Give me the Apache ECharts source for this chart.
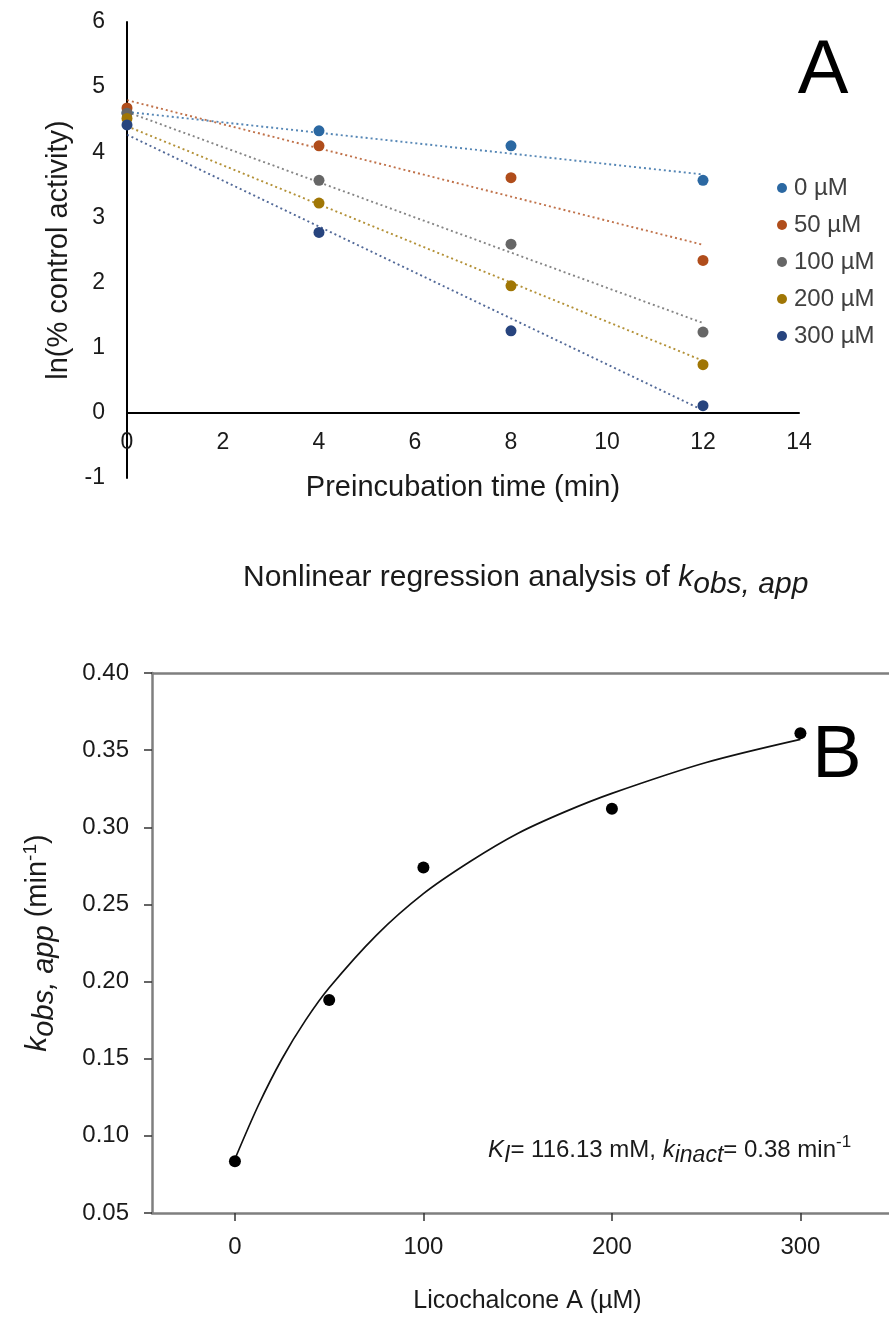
<!DOCTYPE html>
<html>
<head>
<meta charset="utf-8">
<script src="https://cdn.jsdelivr.net/npm/echarts@6/dist/echarts.min.js"></script>
<style>
    html, body { margin: 0; padding: 0; background: #fff; }
    #chart { width: 889px; height: 1317px; }
</style>
</head>
<body>
<div id="chart"></div>
<script>
// ---- panel A : ln(% control activity) vs preincubation time ----
var timePoints = [0, 4, 8, 12];
var concNames = ['0 µM', '50 µM', '100 µM', '200 µM', '300 µM'];
var lnAct0 = [4.61, 4.33, 4.10, 3.57];
var lnAct50 = [4.68, 4.10, 3.61, 2.34];
var lnAct100 = [4.60, 3.57, 2.59, 1.24];
var lnAct200 = [4.52, 3.22, 1.95, 0.74];
var lnAct300 = [4.42, 2.77, 1.26, 0.11];
// dotted trend lines, read at t = 0 and t = 12
var trendTimes = [0, 12];
var trend0 = [4.62, 3.66];
var trend50 = [4.80, 2.58];
var trend100 = [4.62, 1.38];
var trend200 = [4.40, 0.80];
var trend300 = [4.27, 0.04];

// ---- panel B : k obs,app vs Licochalcone A ----
var licoConc = [0, 50, 100, 200, 300];
var kobsApp = [0.0835, 0.188, 0.274, 0.312, 0.361];
// fitted curve
var fitConc = [0, 12.5, 25, 37.5, 50, 75, 100, 125, 150, 175, 200, 250, 300];
var fitKobs = [0.085, 0.120, 0.150, 0.175, 0.196, 0.230, 0.257, 0.278, 0.296, 0.310, 0.322, 0.342, 0.357];
var licoTicks = [0, 100, 200, 300];

var colors = ['#2b68a2', '#b04d1b', '#666666', '#a07605', '#27447e'];
var font = 'Liberation Sans, Arial, sans-serif';

var actSets = [lnAct0, lnAct50, lnAct100, lnAct200, lnAct300];
var trendSets = [trend0, trend50, trend100, trend200, trend300];

function pairs(xs, ys) {
    return xs.map(function (x, i) { return [x, ys[i]]; });
}

var series = [];
// trend lines first so the dots sit on top
trendSets.forEach(function (t, i) {
    series.push({
        name: concNames[i] + ' trend',
        type: 'line',
        xAxisIndex: 0,
        yAxisIndex: 0,
        data: pairs(trendTimes, t),
        showSymbol: false,
        symbol: 'none',
        silent: true,
        lineStyle: { color: colors[i], width: 1.9, type: [2, 3], opacity: 0.8 },
        z: 2
    });
});
actSets.forEach(function (d, i) {
    series.push({
        name: concNames[i],
        type: 'scatter',
        xAxisIndex: 0,
        yAxisIndex: 0,
        data: pairs(timePoints, d),
        symbolSize: 11,
        itemStyle: { color: colors[i], opacity: 1 },
        z: 3
    });
});
series.push({
    name: 'fit',
    type: 'line',
    xAxisIndex: 1,
    yAxisIndex: 1,
    data: pairs(fitConc, fitKobs),
    smooth: 0.3,
    symbol: 'none',
    lineStyle: { color: '#111', width: 1.7 },
    z: 2
});
series.push({
    name: 'kobs',
    type: 'scatter',
    xAxisIndex: 1,
    yAxisIndex: 1,
    data: pairs(licoConc, kobsApp),
    symbolSize: 12,
    itemStyle: { color: '#000', opacity: 1 },
    z: 3
});

var chart = echarts.init(document.getElementById('chart'), null, { renderer: 'canvas' });

var option = {
    animation: false,
    backgroundColor: '#fff',
    textStyle: { fontFamily: font },
    grid: [
        { left: 127, top: 22, right: 90, bottom: 839 },
        { left: 152, top: 673, right: 0, bottom: 104 }
    ],
    legend: {
        data: concNames,
        orient: 'vertical',
        left: 772,
        top: 171,
        icon: 'circle',
        itemWidth: 10,
        itemHeight: 10,
        itemGap: 13,
        textStyle: { fontSize: 24, color: '#404040', fontFamily: font, padding: [0, 0, 0, 2] }
    },
    xAxis: [
        {
            gridIndex: 0,
            type: 'value',
            min: 0,
            max: 14,
            interval: 2,
            axisLine: { onZero: true, lineStyle: { color: '#000', width: 2 } },
            axisTick: { show: false },
            axisLabel: { fontSize: 23, color: '#1a1a1a', margin: -47 },
            splitLine: { show: false }
        },
        {
            gridIndex: 1,
            type: 'value',
            min: -44,
            max: 347,
            name: 'Licochalcone A (µM)',
            nameLocation: 'middle',
            nameGap: 76,
            nameTextStyle: { fontSize: 25, color: '#1a1a1a', fontFamily: font, padding: [0, 0, 0, 14] },
            axisLine: { onZero: false, lineStyle: { color: '#7f7f7f', width: 2.5 } },
            axisTick: { show: true, length: 8, customValues: licoTicks, lineStyle: { color: '#333', width: 1.5 } },
            axisLabel: { fontSize: 24, color: '#1a1a1a', margin: 22, customValues: licoTicks },
            splitLine: { show: false }
        },
        {
            // top frame line of panel B
            gridIndex: 1,
            type: 'value',
            position: 'top',
            min: -44,
            max: 347,
            axisLine: { onZero: false, lineStyle: { color: '#7f7f7f', width: 2.5 } },
            axisTick: { show: false },
            axisLabel: { show: false },
            splitLine: { show: false }
        }
    ],
    yAxis: [
        {
            gridIndex: 0,
            type: 'value',
            min: -1,
            max: 6,
            interval: 1,
            name: 'ln(% control activity)',
            nameLocation: 'middle',
            nameGap: 52,
            nameTextStyle: { fontSize: 29, color: '#1a1a1a', fontFamily: font },
            axisLine: { onZero: false, lineStyle: { color: '#000', width: 2 } },
            axisTick: { show: false },
            axisLabel: { fontSize: 23, color: '#1a1a1a', margin: 22 },
            splitLine: { show: false }
        },
        {
            gridIndex: 1,
            type: 'value',
            min: 0.05,
            max: 0.40,
            interval: 0.05,
            name: '{k|k}{ks|obs, app} {n|(min}{sup|-1}{n|)}',
            nameLocation: 'middle',
            nameGap: 93,
            nameTextStyle: {
                fontSize: 29,
                color: '#1a1a1a',
                fontFamily: font,
                rich: {
                    k: { fontSize: 30, fontStyle: 'italic', color: '#1a1a1a', fontFamily: font },
                    ks: { fontSize: 29, fontStyle: 'italic', color: '#1a1a1a', fontFamily: font, padding: [13, 0, 0, 0] },
                    n: { fontSize: 29, color: '#1a1a1a', fontFamily: font },
                    sup: { fontSize: 19, color: '#1a1a1a', fontFamily: font, padding: [0, 0, 15, 0] }
                }
            },
            axisLine: { onZero: false, lineStyle: { color: '#7f7f7f', width: 2.5 } },
            axisTick: { show: true, length: 8, lineStyle: { color: '#333', width: 1.5 } },
            axisLabel: {
                fontSize: 24,
                color: '#1a1a1a',
                margin: 23,
                formatter: function (v) { return v.toFixed(2); }
            },
            splitLine: { show: false }
        }
    ],
    graphic: [
        {
            type: 'text',
            x: 823,
            y: 72,
            style: { text: 'A', fontSize: 76, fontFamily: font, fill: '#000', align: 'center', verticalAlign: 'middle', textAlign: 'center', textVerticalAlign: 'middle' }
        },
        {
            type: 'text',
            x: 463,
            y: 488,
            style: { text: 'Preincubation time (min)', fontSize: 29, fontFamily: font, fill: '#1a1a1a', align: 'center', verticalAlign: 'middle', textAlign: 'center', textVerticalAlign: 'middle' }
        },
        {
            type: 'text',
            x: 837,
            y: 757,
            style: { text: 'B', fontSize: 74, fontFamily: font, fill: '#000', align: 'center', verticalAlign: 'middle', textAlign: 'center', textVerticalAlign: 'middle' }
        },
        {
            type: 'text',
            x: 243,
            y: 578,
            style: {
                text: '{n|Nonlinear regression analysis of }{i|k}{s|obs, app}',
                fontFamily: font,
                align: 'left', verticalAlign: 'middle', textAlign: 'left', textVerticalAlign: 'middle',
                rich: {
                    n: { fontSize: 30, fill: '#1a1a1a', fontFamily: font },
                    i: { fontSize: 30, fill: '#1a1a1a', fontFamily: font, fontStyle: 'italic' },
                    s: { fontSize: 30, fill: '#1a1a1a', fontFamily: font, fontStyle: 'italic', padding: [14, 0, 0, 0] }
                }
            }
        },
        {
            type: 'text',
            x: 488,
            y: 1150,
            style: {
                text: '{i|K}{s|I}{n|= 116.13 mM, }{i|k}{s|inact}{n|= 0.38 min}{sup|-1}',
                fontFamily: font,
                align: 'left', verticalAlign: 'middle', textAlign: 'left', textVerticalAlign: 'middle',
                rich: {
                    n: { fontSize: 24, fill: '#1a1a1a', fontFamily: font },
                    i: { fontSize: 24, fill: '#1a1a1a', fontFamily: font, fontStyle: 'italic' },
                    s: { fontSize: 23, fill: '#1a1a1a', fontFamily: font, fontStyle: 'italic', padding: [12, 0, 0, 0] },
                    sup: { fontSize: 17, fill: '#1a1a1a', fontFamily: font, padding: [0, 0, 15, 0] }
                }
            }
        }
    ],
    series: series
};

chart.setOption(option);
</script>
</body>
</html>
